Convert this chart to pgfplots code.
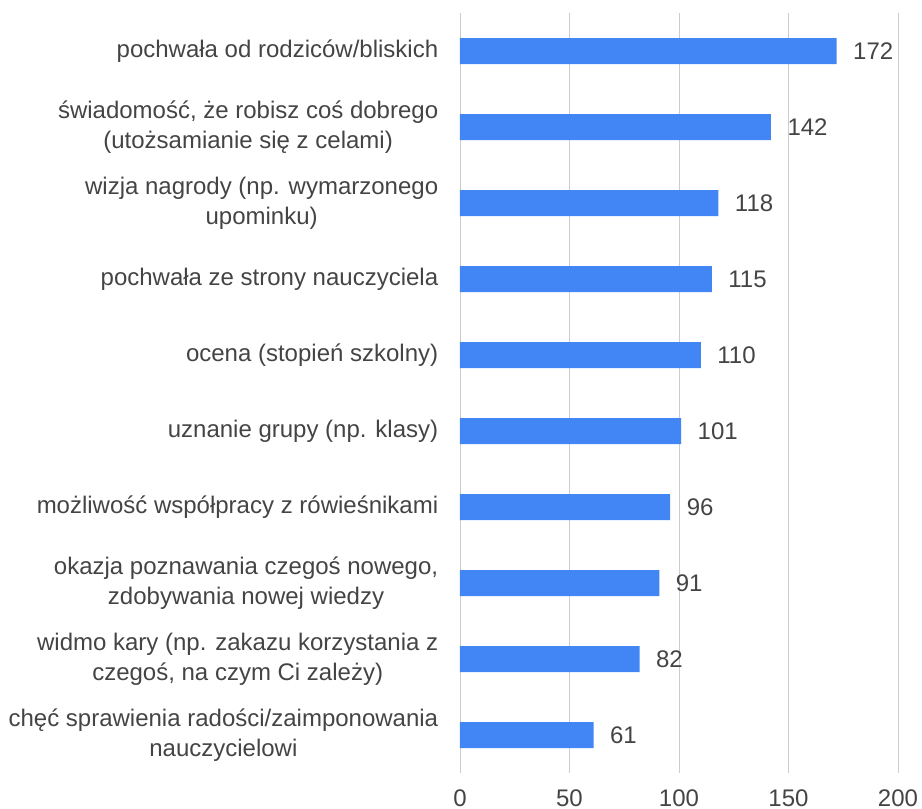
\documentclass[border=0pt]{standalone}
\usepackage{fontspec}
\setmainfont{Liberation Sans}
\usepackage{pgfplots}
\pgfplotsset{compat=1.18}
\definecolor{barblue}{HTML}{4285F4}
\definecolor{txt}{HTML}{444444}
\definecolor{gridc}{HTML}{CCCCCC}

\begin{document}
\begin{tikzpicture}
\begin{axis}[
    xbar,
    scale only axis,
    width=438pt, height=760pt,
    xmin=0, xmax=200,
    ymin=-0.5, ymax=9.5,
    y dir=reverse,
    enlarge x limits=false,
    enlarge y limits=false,
    bar width=26pt,
    axis lines*=left,
    axis line style={draw=none},
    tick style={draw=none},
    xmajorgrids,
    grid style={gridc, line width=0.8pt},
    xtick={0,50,100,150,200},
    ytick={0,...,9},
    yticklabels={
        {pochwała od rodziców/bliskich},
        {świadomość, że robisz coś dobrego\\(utożsamianie się z celami)},
        {wizja nagrody (np. wymarzonego\\upominku)},
        {pochwała ze strony nauczyciela},
        {ocena (stopień szkolny)},
        {uznanie grupy (np. klasy)},
        {możliwość współpracy z rówieśnikami},
        {okazja poznawania czegoś nowego,\\zdobywania nowej wiedzy},
        {widmo kary (np. zakazu korzystania z\\czegoś, na czym Ci zależy)},
        {chęć sprawienia radości/zaimponowania\\nauczycielowi}
    },
    /pgf/number format/assume math mode=true,
    every tick label/.append style={font=\fontsize{24}{30}\selectfont, text=txt},
    yticklabel style={align=center, xshift=-14pt},
    xticklabel style={yshift=-13pt},
    nodes near coords,
    nodes near coords style={font=\fontsize{24}{30}\selectfont, text=txt, anchor=west, xshift=13pt},
]
\addplot[fill=barblue, draw=none] coordinates {
    (172,0) (142,1) (118,2) (115,3) (110,4)
    (101,5) (96,6) (91,7) (82,8) (61,9)
};
\end{axis}
\pgfresetboundingbox
\path (-460pt,-36pt) rectangle (462pt,773pt);
\end{tikzpicture}
\end{document}
